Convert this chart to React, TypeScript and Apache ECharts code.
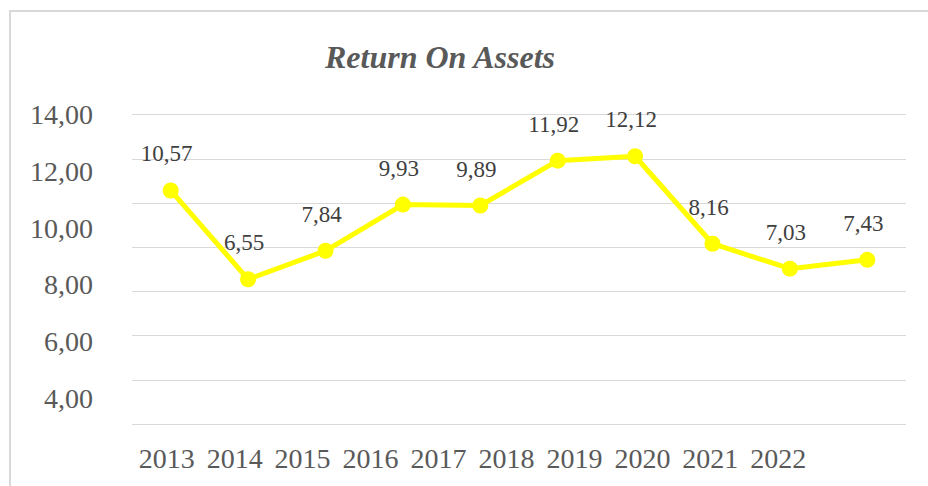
import React, { useEffect, useRef } from "react";
import * as echarts from "echarts";

const years = ["2013", "2014", "2015", "2016", "2017", "2018", "2019", "2020", "2021", "2022"];
const roa = [10.57, 6.55, 7.84, 9.93, 9.89, 11.92, 12.12, 8.16, 7.03, 7.43];
const plotMin = 0;
const plotMax = 14;
const tickLabelMin = 4;
const tickLabelMax = 14;
const tickStep = 2;
const titleText = "Return On Assets";

const SERIF = "Times New Roman, Liberation Serif, serif";
const fmt = (v: number) => v.toFixed(2).replace(".", ",");

export default function App() {
  const ref = useRef<HTMLDivElement>(null);
  useEffect(() => {
    if (!ref.current) return;
    const chart = echarts.init(ref.current, undefined, { renderer: "svg" });
    chart.setOption({
      animation: false,
      backgroundColor: "#ffffff",
      title: {
        text: titleText,
        left: 325,
        top: 41,
        padding: 0,
        textStyle: {
          fontFamily: SERIF,
          fontSize: 32,
          fontWeight: "bold",
          fontStyle: "italic",
          color: "#595959",
        },
      },
      graphic: [
        {
          type: "rect",
          shape: { x: 10, y: 11, width: 1000, height: 1000 },
          style: { fill: "none", stroke: "#d9d9d9", lineWidth: 2 },
          silent: true,
        },
      ],
      grid: [
        { left: 132, right: 22, top: 114.7, bottom: 62 },
        { left: 101, right: 22, top: 114.5, bottom: 87.4 },
        { left: 132.7, right: 115.7, top: 100, bottom: 62 },
      ],
      xAxis: [
        {
          gridIndex: 0,
          type: "category",
          data: years,
          boundaryGap: true,
          axisLine: { show: false },
          axisTick: { show: false },
          axisLabel: { show: false },
        },
        { gridIndex: 1, type: "category", data: years, show: false },
        {
          gridIndex: 2,
          type: "category",
          data: years,
          boundaryGap: true,
          axisLine: { show: false },
          axisTick: { show: false },
          splitLine: { show: false },
          axisLabel: {
            fontFamily: SERIF,
            fontSize: 28,
            color: "#595959",
            margin: 20,
            interval: 0,
          },
        },
      ],
      yAxis: [
        {
          gridIndex: 0,
          type: "value",
          min: plotMin,
          max: plotMax,
          interval: tickStep,
          axisLine: { show: false },
          axisTick: { show: false },
          axisLabel: { show: false },
          splitLine: { show: true, lineStyle: { color: "#d9d9d9", width: 1 } },
        },
        {
          gridIndex: 1,
          type: "value",
          min: tickLabelMin,
          max: tickLabelMax,
          interval: tickStep,
          axisLine: { show: false },
          axisTick: { show: false },
          splitLine: { show: false },
          axisLabel: {
            fontFamily: SERIF,
            fontSize: 28,
            color: "#595959",
            margin: 8,
            formatter: (v: number) => fmt(v),
          },
        },
        { gridIndex: 2, type: "value", show: false, min: 0, max: 1 },
      ],
      series: [
        {
          type: "line",
          xAxisIndex: 0,
          yAxisIndex: 0,
          data: roa,
          symbol: "circle",
          symbolSize: 16,
          itemStyle: { color: "#FFFF00" },
          lineStyle: { color: "#FFFF00", width: 5 },
          label: {
            show: true,
            position: "top",
            distance: 17,
            offset: [-4, 0],
            fontFamily: SERIF,
            fontSize: 23,
            color: "#404040",
            formatter: (p: any) => fmt(p.value),
          },
          clip: false,
        },
      ],
    });
    return () => chart.dispose();
  }, []);
  return (
    <div
      ref={ref}
      style={{ position: "fixed", left: 0, top: 0, width: 928, height: 486 }}
    />
  );
}
